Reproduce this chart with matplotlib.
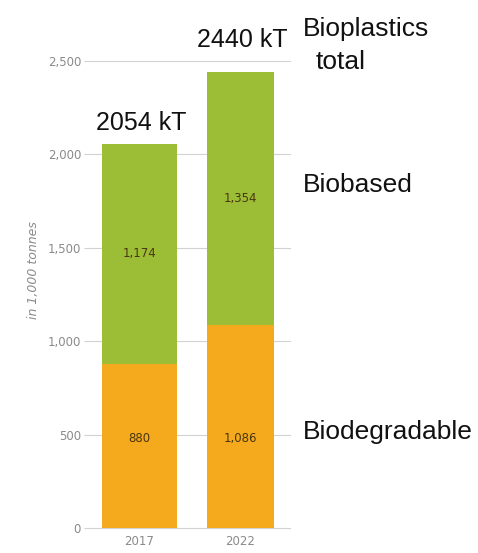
import matplotlib
matplotlib.use("Agg")
import matplotlib.pyplot as plt

years = ["2017", "2022"]
biodegradable = [880, 1086]
biobased = [1174, 1354]
totals = [2054, 2440]
yticks = [0, 500, 1000, 1500, 2000, 2500]
ytick_labels = ["0", "500", "1,000", "1,500", "2,000", "2,500"]

GREEN = "#9cbe37"
ORANGE = "#f5a91c"
GRID = "#d2d2d2"
TICK_TXT = "#8a8a8a"
VAL_TXT = "#4a3512"
NARROW = "Liberation Sans Narrow"

fig = plt.figure(figsize=(4.78, 5.53), dpi=100)
ax = fig.add_axes([88 / 478, 1 - 528 / 553, 202 / 478, 467 / 553])

x = [0, 1]
widths = [0.74, 0.66]
ax.set_xlim(-0.51, 1.49)
ax.set_ylim(0, 2500)

for t in yticks:
    ax.axhline(t, color=GRID, lw=0.8, zorder=0, clip_on=False)

ax.bar(x, biodegradable, width=widths, color=ORANGE, zorder=2)
ax.bar(x, biobased, width=widths, bottom=biodegradable, color=GREEN, zorder=2)

for xi, lo, hi in zip(x, biodegradable, biobased):
    ax.text(xi, 480, f"{lo:,}", ha="center", va="center", fontsize=8.5,
            color=VAL_TXT, family=NARROW)
    ax.text(xi, lo + hi / 2, f"{hi:,}", ha="center", va="center", fontsize=8.5,
            color=VAL_TXT, family=NARROW)

# total labels above each bar (baseline offsets in data units)
total_offsets = [77, 135]
for xi, tot, off in zip(x, totals, total_offsets):
    ax.text(xi + 0.02, tot + off, f"{tot} kT", ha="center", va="baseline",
            fontsize=18, color="#111111", family="Liberation Sans")

ax.set_yticks(yticks)
ax.set_yticklabels(ytick_labels, family=NARROW, fontsize=8.5, color=TICK_TXT)
ax.set_xticks(x)
ax.set_xticklabels(years, family=NARROW, fontsize=8.5, color=TICK_TXT)
ax.tick_params(axis="y", length=3, color=GRID, pad=2)
ax.tick_params(axis="x", length=0, pad=5)
for s in ax.spines.values():
    s.set_visible(False)

fig.text(33 / 478, 1 - 270 / 553, "in 1,000 tonnes", rotation=90,
         ha="center", va="center", fontsize=9, color=TICK_TXT,
         style="italic", family=NARROW)

side = dict(fontsize=19, color="#111111", family="Liberation Sans",
            va="baseline")
fig.text(303 / 478, 1 - 36 / 553, "Bioplastics", **side)
fig.text(316 / 478, 1 - 69 / 553, "total", **side)
fig.text(303 / 478, 1 - 192 / 553, "Biobased", **side)
fig.text(303 / 478, 1 - 439 / 553, "Biodegradable", **side)

fig.savefig("out.png", dpi=100, facecolor="white")
